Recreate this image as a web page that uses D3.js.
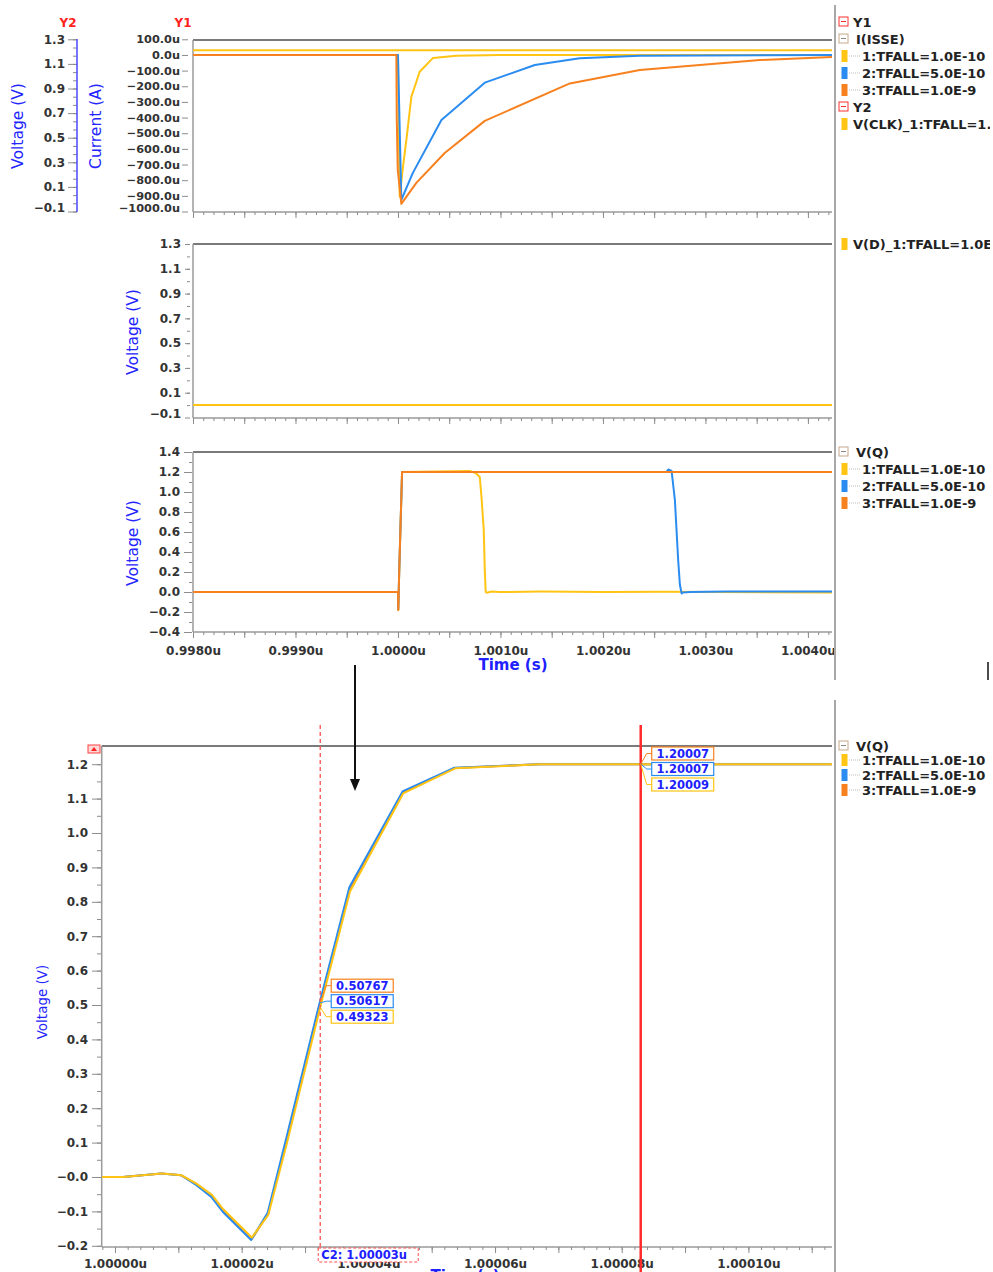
<!DOCTYPE html>
<html>
<head>
<meta charset="utf-8">
<style>
    body { margin: 0; background: #fff; }
    svg { font-family: "DejaVu Sans", sans-serif; }
    .tick text { font-family: "DejaVu Sans", sans-serif; font-size: 12px; font-weight: bold; fill: #333; }
    .tick line { stroke: #8c8c8c; }
    .axis .domain { display: none; }
    .trace { fill: none; stroke-width: 2; stroke-linejoin: round; }
    .leg { font-size: 13px; font-weight: bold; fill: #222; }
    .ylab { font-size: 15px; fill: #2424ff; }
</style>
</head>
<body>
<script src="https://cdn.jsdelivr.net/npm/d3@7"></script>
<script>
    // ---- data (time in us) ----
    const traceNames = ["1:TFALL=1.0E-10", "2:TFALL=5.0E-10", "3:TFALL=1.0E-9"]
    const traceColors = ["#ffc414", "#2a8cf0", "#f7811e"]

    // I(ISSE), uA
    const issT1 = [0.9980, 1.000000, 1.000017, 1.000049, 1.000082, 1.000131, 1.000212, 1.000342, 1.000570, 1.001000, 1.004240]
    const issV1 = [0, 0, -905, -713, -543, -266, -107, -19, -5, -1, 0]
    const issT2 = [0.9980, 1.000000, 1.000033, 1.000144, 1.000424, 1.000847, 1.001335, 1.001774, 1.002360, 1.004240]
    const issV2 = [0, 0, -926, -755, -415, -177, -64, -21, -5, 0]
    const issT3 = [0.9980, 0.999984, 0.999988, 0.999998, 1.000033, 1.000179, 1.000456, 1.000847, 1.001677, 1.002360, 1.002946, 1.003532, 1.004240]
    const issV3 = [0, 0, -394, -734, -951, -817, -626, -421, -182, -96, -64, -32, -13]

    // V(CLK) and V(D), volts
    const clkT = [0.9980, 1.004240]
    const clkV = [1.21, 1.21]
    const dT = [0.9980, 1.004240]
    const dV = [0, 0]

    // V(Q), volts
    const qT1 = [0.9980, 1.000000, 1.000003, 1.000012, 1.000040, 1.000700, 1.000759, 1.000798, 1.000815, 1.000837, 1.000847, 1.000856, 1.000866, 1.000915, 1.000993, 1.001400, 1.002000, 1.002600, 1.004240]
    const qV1 = [0, 0, -0.18, 0.20, 1.20, 1.21, 1.19, 1.15, 0.95, 0.62, 0.22, 0.0, -0.007, 0.005, 0.0, 0.004, 0.0, 0.002, -0.005]
    const qT2 = [0.9980, 1.000000, 1.000003, 1.000012, 1.000040, 1.002620, 1.002637, 1.002670, 1.002702, 1.002734, 1.002751, 1.002768, 1.002780, 1.002849, 1.003200, 1.004240]
    const qV2 = [0, 0, -0.17, 0.20, 1.20, 1.20, 1.225, 1.21, 0.92, 0.32, 0.07, -0.015, -0.005, 0.0, 0.004, 0.005]
    const qT3 = [0.9980, 1.000000, 1.000003, 1.000012, 1.000040, 1.004240]
    const qV3 = [0, 0, -0.18, 0.20, 1.20, 1.20]

    // zoomed V(Q) rising edge
    const zT = [0.9999979, 1.0000013, 1.0000074, 1.0000105, 1.0000129, 1.0000153, 1.0000171, 1.0000216, 1.0000242, 1.0000271, 1.0000324, 1.0000371, 1.0000455, 1.0000537, 1.0000671, 1.0000830, 1.0001132]
    const zV1 = [0, 0, 0.010, 0.005, -0.020, -0.052, -0.094, -0.176, -0.110, 0.095, 0.49323, 0.830, 1.115, 1.188, 1.200, 1.20009, 1.200]
    const zV2 = [0, 0, 0.010, 0.005, -0.023, -0.058, -0.101, -0.183, -0.104, 0.110, 0.50617, 0.842, 1.121, 1.190, 1.200, 1.20007, 1.200]
    const zV3 = [0, 0, 0.010, 0.005, -0.021, -0.055, -0.098, -0.180, -0.106, 0.108, 0.50767, 0.840, 1.119, 1.189, 1.200, 1.20007, 1.200]

    // cursors
    const c2Time = 1.0000324
    const c2Text = "C2: 1.00003u"
    const c2Labels = ["0.49323", "0.50617", "0.50767"]
    const c1Time = 1.0000830
    const c1Labels = ["1.20009", "1.20007", "1.20007"]

    // ---- layout ----
    let svg = d3.select("body").append("svg").attr("width", 993).attr("height", 1272)
    let defs = svg.append("defs")

    let xTop = d3.scaleLinear().domain([0.9980, 1.004235]).range([193, 832])
    let yI = d3.scaleLinear().domain([-1000, 100]).range([211.5, 39.3])
    let yClk = d3.scaleLinear().domain([-0.1, 1.3]).range([211.5, 39.3])
    let yD = d3.scaleLinear().domain([-0.1, 1.3]).range([417.5, 244])
    let yQ = d3.scaleLinear().domain([-0.4, 1.4]).range([632, 452])
    let xZ = d3.scaleLinear().domain([0.9999979, 1.0001132]).range([101.7, 832])
    let yZ = d3.scaleLinear().domain([-0.2035, 1.2529]).range([1247, 746])

    function clip(id, x0, y0, x1, y1) {
        defs.append("clipPath").attr("id", id).append("rect")
            .attr("x", x0).attr("y", y0).attr("width", x1 - x0).attr("height", y1 - y0)
    }
    clip("c1", 193, 40, 832, 212)
    clip("c2", 193, 244, 832, 418)
    clip("c3", 193, 452, 832, 632)
    clip("cz", 102, 746, 832, 1247)
    clip("cleg", 830, 0, 990, 1272)

    function frame(x0, x1, top, bottom) {
        svg.append("line").attr("x1", x0).attr("x2", x1).attr("y1", top).attr("y2", top)
            .attr("stroke", "#7a7a7a").attr("stroke-width", 2)
        svg.append("line").attr("x1", x0).attr("x2", x0).attr("y1", top).attr("y2", bottom)
            .attr("stroke", "#9a9a9a").attr("stroke-width", 1.5)
        svg.append("line").attr("x1", x0).attr("x2", x1).attr("y1", bottom).attr("y2", bottom)
            .attr("stroke", "#9a9a9a").attr("stroke-width", 1.5)
    }
    frame(193, 832, 40, 212)
    frame(193, 832, 244, 418)
    frame(193, 832, 452, 632)
    frame(101.7, 832, 746, 1247)

    // x axes (upper panels share one time scale)
    let topMinor = d3.range(0, 63).map(i => 0.998 + i * 0.0001)
    let topMajor = d3.range(0, 13).map(i => 0.998 + i * 0.0005)
    let fmtTop = d => d.toFixed(4) + "u"
    ;[212, 418, 632].forEach((y, k) => {
        svg.append("g").attr("class", "axis").attr("transform", `translate(0,${y})`)
            .call(d3.axisBottom(xTop).tickValues(topMinor).tickSize(3).tickFormat(""))
        svg.append("g").attr("class", "axis").attr("transform", `translate(0,${y})`)
            .call(d3.axisBottom(xTop).tickValues(topMajor).tickSize(6).tickPadding(8)
                .tickFormat((d, i) => (k === 2 && i % 2 === 0) ? fmtTop(d) : ""))
    })

    let zMinor = d3.range(-1, 57).map(i => 1 + i * 0.000002)
    let zMajor = d3.range(0, 12).map(i => 1 + i * 0.00001)
    svg.append("g").attr("class", "axis").attr("transform", "translate(0,1247)")
        .call(d3.axisBottom(xZ).tickValues(zMinor).tickSize(3).tickFormat(""))
    svg.append("g").attr("class", "axis").attr("transform", "translate(0,1247)")
        .call(d3.axisBottom(xZ).tickValues(zMajor).tickSize(6).tickPadding(6)
            .tickFormat((d, i) => i % 2 === 0 ? d.toFixed(5) + "u" : ""))

    // y axes
    let minus = v => v < 0 ? "\u2212" + Math.abs(v).toFixed(1) : v.toFixed(1)
    function nudgeLast(g, dy) {
        let texts = g.selectAll(".tick text").nodes()
        d3.select(texts[0]).attr("dy", (0.32 - dy / 12) + "em")
    }

    let gI = svg.append("g").attr("class", "axis").attr("transform", "translate(188,0)")
        .call(d3.axisLeft(yI).tickValues(d3.range(-1000, 101, 100)).tickSize(6).tickPadding(2)
            .tickFormat(d => (d < 0 ? "\u2212" + Math.abs(d) : d) + ".0u"))
    gI.selectAll(".tick text").style("font-size", "11.3px")
    nudgeLast(gI, 4)

    let gClk = svg.append("g").attr("class", "axis").attr("transform", "translate(77,0)")
    gClk.call(d3.axisLeft(yClk).tickValues(d3.range(-0.1, 1.31, 0.2 / 3)).tickSize(4).tickFormat(""))
    gClk.call(g => g.selectAll(".tick line").attr("stroke", "#4848ff"))
    let gClk2 = svg.append("g").attr("class", "axis").attr("transform", "translate(77,0)")
        .call(d3.axisLeft(yClk).tickValues(d3.range(0, 8).map(i => -0.1 + i * 0.2)).tickSize(9).tickPadding(3)
            .tickFormat(minus))
    gClk2.selectAll(".tick line").attr("stroke", "#4848ff")
    nudgeLast(gClk2, 4)
    svg.append("line").attr("x1", 77).attr("x2", 77).attr("y1", 39).attr("y2", 212)
        .attr("stroke", "#4848ff").attr("stroke-width", 1.5)

    let gD = svg.append("g").attr("class", "axis").attr("transform", "translate(190,0)")
        .call(d3.axisLeft(yD).tickValues(d3.range(0, 8).map(i => -0.1 + i * 0.2)).tickSize(5).tickPadding(4)
            .tickFormat(minus))
    nudgeLast(gD, 4)
    svg.append("g").attr("class", "axis").attr("transform", "translate(190,0)")
        .call(d3.axisLeft(yD).tickValues(d3.range(0, 14).map(i => i * 0.1)).tickSize(3).tickFormat(""))

    svg.append("g").attr("class", "axis").attr("transform", "translate(192,0)")
        .call(d3.axisLeft(yQ).tickValues(d3.range(0, 19).map(i => -0.4 + i * 0.1)).tickSize(3).tickFormat(""))
    svg.append("g").attr("class", "axis").attr("transform", "translate(192,0)")
        .call(d3.axisLeft(yQ).tickValues(d3.range(0, 10).map(i => -0.4 + i * 0.2)).tickSize(8).tickPadding(4)
            .tickFormat(minus))

    svg.append("g").attr("class", "axis").attr("transform", "translate(101,0)")
        .call(d3.axisLeft(yZ).tickValues(d3.range(0, 29).map(i => -0.2 + i * 0.05)).tickSize(4).tickFormat(""))
    svg.append("g").attr("class", "axis").attr("transform", "translate(101,0)")
        .call(d3.axisLeft(yZ).tickValues(d3.range(0, 15).map(i => -0.2 + i * 0.1)).tickSize(9).tickPadding(4)
            .tickFormat(d => Math.abs(d) < 1e-9 ? "\u22120.0" : minus(d)))

    // axis titles
    function ylab(x, y, txt, size) {
        svg.append("text").attr("class", "ylab").attr("transform", `translate(${x},${y}) rotate(-90)`)
            .attr("text-anchor", "middle").attr("dy", "0.35em").style("font-size", size + "px").text(txt)
    }
    ylab(18, 126, "Voltage (V)", 15.5)
    ylab(96, 126, "Current (A)", 15.5)
    ylab(133, 332, "Voltage (V)", 15.5)
    ylab(133, 543, "Voltage (V)", 15.5)
    ylab(42, 1002, "Voltage (V)", 13.5)
    svg.append("text").attr("x", 68).attr("y", 27).attr("text-anchor", "middle")
        .attr("fill", "#ff2020").style("font-size", "12px").style("font-weight", "bold").text("Y2")
    svg.append("text").attr("x", 183).attr("y", 27).attr("text-anchor", "middle")
        .attr("fill", "#ff2020").style("font-size", "12px").style("font-weight", "bold").text("Y1")
    svg.append("text").attr("x", 513).attr("y", 670).attr("text-anchor", "middle")
        .attr("fill", "#2020ff").style("font-size", "15px").style("font-weight", "bold").text("Time (s)")
    svg.append("text").attr("x", 465).attr("y", 1281).attr("text-anchor", "middle")
        .attr("fill", "#2020ff").style("font-size", "15px").style("font-weight", "bold").text("Time (s)")

    // traces
    function trace(clipId, xs, ys, ts, vs, color, w) {
        let line = d3.line().x((d, i) => xs(ts[i])).y(d => ys(d))
        svg.append("path").attr("class", "trace").attr("clip-path", `url(#${clipId})`)
            .attr("d", line(vs)).attr("stroke", color).attr("stroke-width", w || 2)
    }
    trace("c1", xTop, yClk, clkT, clkV, traceColors[0], 2.2)
    trace("c1", xTop, yI, issT1, issV1, traceColors[0])
    trace("c1", xTop, yI, issT2, issV2, traceColors[1])
    trace("c1", xTop, yI, issT3, issV3, traceColors[2])
    trace("c2", xTop, yD, dT, dV, traceColors[0], 2.2)
    trace("c3", xTop, yQ, qT1, qV1, traceColors[0])
    trace("c3", xTop, yQ, qT2, qV2, traceColors[1])
    trace("c3", xTop, yQ, qT3, qV3, traceColors[2])
    trace("cz", xZ, yZ, zT, zV3, traceColors[2], 2)
    trace("cz", xZ, yZ, zT.map(t => t - 0.0000001), zV2, traceColors[1], 2)
    trace("cz", xZ, yZ, zT, zV1, traceColors[0], 2)

    // cursors
    let zSeries = [zV1, zV2, zV3]
    function valueAt(vs, t) {
        let i = d3.bisectLeft(zT, t)
        if (zT[i] === t) return vs[i]
        let f = (t - zT[i - 1]) / (zT[i] - zT[i - 1])
        return vs[i - 1] + f * (vs[i] - vs[i - 1])
    }
    function cursor(t, labels, dashed) {
        let cx = xZ(t)
        svg.append("line").attr("x1", cx).attr("x2", cx).attr("y1", 725).attr("y2", dashed ? 1248 : 1272)
            .attr("stroke", dashed ? "#ff5050" : "#ff2a2a").attr("stroke-width", dashed ? 1.3 : 2.5)
            .attr("stroke-dasharray", dashed ? "4,3" : null)
        let vals = zSeries.map(vs => valueAt(vs, t))
        let yi = yZ(d3.mean(vals))
        let top = Math.max(yi - 25, 747)
        ;[2, 1, 0].forEach((s, k) => {
            let by = top + k * 15.5
            svg.append("polyline")
                .attr("points", `${cx},${yZ(vals[s])} ${cx + 6},${by + 6.5} ${cx + 11},${by + 6.5}`)
                .attr("fill", "none").attr("stroke", traceColors[s]).attr("stroke-width", 1)
            svg.append("rect").attr("x", cx + 11).attr("y", by).attr("width", 62).attr("height", 13)
                .attr("fill", "#fff").attr("stroke", traceColors[s]).attr("stroke-width", 1.2)
            svg.append("text").attr("x", cx + 42).attr("y", by + 10.5).attr("text-anchor", "middle")
                .attr("fill", "#2020ff").style("font-size", "11.5px").style("font-weight", "bold").text(labels[s])
        })
    }
    cursor(c2Time, c2Labels, true)
    cursor(c1Time, c1Labels, false)

    let c2x = xZ(c2Time)
    svg.append("rect").attr("x", c2x - 2).attr("y", 1248).attr("width", 100).attr("height", 14)
        .attr("fill", "#fff").attr("stroke", "#ff5050").attr("stroke-dasharray", "3,2")
    svg.append("text").attr("x", c2x + 1).attr("y", 1259).attr("fill", "#2020ff")
        .style("font-size", "11.5px").style("font-weight", "bold").text(c2Text)

    // small marker at the top-left of the zoom plot
    svg.append("rect").attr("x", 88).attr("y", 745).attr("width", 12).attr("height", 8)
        .attr("fill", "#ffd8d8").attr("stroke", "#ff4040")
    svg.append("path").attr("d", "M91,751 L94,747 L97,751 Z").attr("fill", "#ff2020")

    // arrow
    svg.append("line").attr("x1", 355).attr("x2", 355).attr("y1", 665).attr("y2", 781)
        .attr("stroke", "#111").attr("stroke-width", 2)
    svg.append("path").attr("d", "M350,779 L360,779 L355,791 Z").attr("fill", "#111")

    // separators
    svg.append("line").attr("x1", 835).attr("x2", 835).attr("y1", 5).attr("y2", 680)
        .attr("stroke", "#a8a8a8").attr("stroke-width", 2)
    svg.append("line").attr("x1", 835).attr("x2", 835).attr("y1", 700).attr("y2", 1272)
        .attr("stroke", "#a8a8a8").attr("stroke-width", 2)
    svg.append("line").attr("x1", 988).attr("x2", 988).attr("y1", 662).attr("y2", 680)
        .attr("stroke", "#111").attr("stroke-width", 1.5)

    // legends
    let leg = svg.append("g").attr("clip-path", "url(#cleg)")
    function header(y, txt, red) {
        let c = red ? "#ff3030" : "#c8a88a"
        leg.append("rect").attr("x", 839).attr("y", y - 5).attr("width", 9).attr("height", 9)
            .attr("fill", "#fff").attr("stroke", c)
        leg.append("line").attr("x1", 841).attr("x2", 846).attr("y1", y - 0.5).attr("y2", y - 0.5)
            .attr("stroke", red ? "#ff3030" : "#888")
        leg.append("text").attr("class", "leg").attr("x", red ? 853 : 856).attr("y", y + 4.5)
            .attr("fill", red ? "#ff2020" : "#222").text(txt)
    }
    function item(y, color, txt, dotted) {
        leg.append("rect").attr("x", 841.5).attr("y", y - 6).attr("width", 6).attr("height", 12).attr("fill", color)
        if (dotted) {
            leg.append("line").attr("x1", 849).attr("x2", 861).attr("y1", y).attr("y2", y)
                .attr("stroke", "#bbb").attr("stroke-dasharray", "1,1")
        }
        leg.append("text").attr("class", "leg").attr("x", dotted ? 862 : 853).attr("y", y + 4.5).text(txt)
    }
    header(22, "Y1", true)
    header(39, "I(ISSE)", false)
    traceNames.forEach((n, i) => item(56 + i * 17, traceColors[i], n, true))
    header(107, "Y2", true)
    item(124, traceColors[0], "V(CLK)_1:TFALL=1.0E-10", false)
    item(244, traceColors[0], "V(D)_1:TFALL=1.0E-10", false)
    header(452, "V(Q)", false)
    traceNames.forEach((n, i) => item(469 + i * 17, traceColors[i], n, true))
    header(746, "V(Q)", false)
    traceNames.forEach((n, i) => item(760 + i * 15, traceColors[i], n, true))
</script>
</body>
</html>
